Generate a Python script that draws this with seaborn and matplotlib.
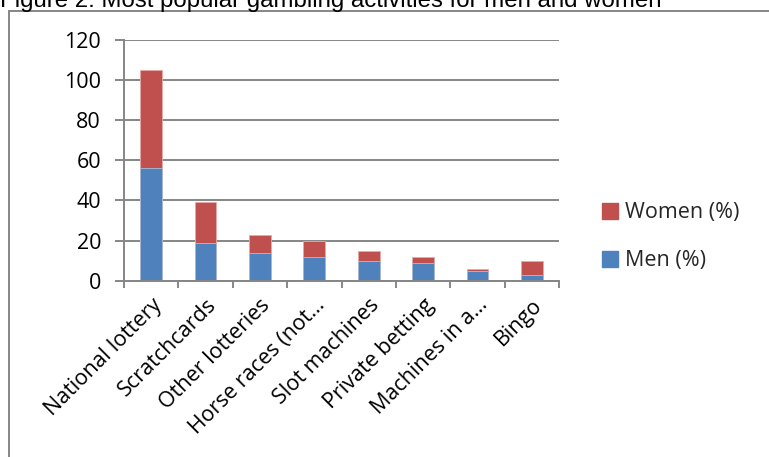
import matplotlib
matplotlib.use("Agg")
import matplotlib.pyplot as plt
from matplotlib.patches import Patch
from matplotlib.lines import Line2D
import seaborn as sns
import pandas as pd

categories = ["National lottery", "Scratchcards", "Other lotteries", "Horse races (not\u2026",
              "Slot machines", "Private betting", "Machines in a\u2026", "Bingo"]
men = [56, 19, 14, 12, 10, 9, 5, 3]
women = [49, 20, 9, 8, 5, 3, 1, 7]
yticks = [0, 20, 40, 60, 80, 100, 120]

BLUE = "#4F81BD"
RED = "#C0504D"
GRID = "#868686"
FS = 15.5

sns.set_theme(style="white")
plt.rcParams["font.family"] = ["Open Sans", "DejaVu Sans"]

df = pd.DataFrame({"activity": categories, "men": men, "women": women})
df["total"] = df["men"] + df["women"]

fig = plt.figure(figsize=(7.69, 4.57), dpi=100)
ax = fig.add_axes([0.1612, 0.3858, 0.727 - 0.1612, 0.9125 - 0.3858])

# stacked bars: total (women on top) first, then men over it
sns.barplot(data=df, x="activity", y="total", color=RED, saturation=1, width=0.4,
            edgecolor="#E6A9A8", linewidth=0.6, ax=ax)
sns.barplot(data=df, x="activity", y="men", color=BLUE, saturation=1, width=0.4,
            edgecolor="#A7C0DE", linewidth=0.6, ax=ax)

ax.set_ylim(0, 120)
ax.set_xlim(-0.5, len(categories) - 0.5)
ax.set_yticks(yticks)
ax.set_yticklabels([str(v) for v in yticks], fontsize=FS, color="black")
ax.yaxis.grid(True, color=GRID, linewidth=1.4)
ax.set_axisbelow(True)
ax.set_xlabel("")
ax.set_ylabel("")

for s in ["top", "right"]:
    ax.spines[s].set_visible(False)
for s in ["left", "bottom"]:
    ax.spines[s].set_color(GRID)
    ax.spines[s].set_linewidth(1.4)

# x ticks at category boundaries, labels at category centres
ax.set_xticks([i - 0.5 for i in range(len(categories) + 1)], minor=False)
ax.set_xticklabels([""] * (len(categories) + 1))
ax.set_xticks(range(len(categories)), minor=True)
ax.set_xticklabels(categories, minor=True, rotation=45, ha="right",
                   rotation_mode="anchor", fontsize=FS, color="black")
ax.tick_params(axis="x", which="major", direction="out", length=5, width=1.4,
               color=GRID, bottom=True)
ax.tick_params(axis="x", which="minor", length=0, pad=10, bottom=True)
ax.tick_params(axis="y", direction="out", length=6.5, width=1.4, color=GRID, left=True, pad=10)

handles = [Patch(facecolor=RED, edgecolor=RED, label="Women (%)"),
           Patch(facecolor=BLUE, edgecolor=BLUE, label="Men (%)")]
fig.legend(handles=handles, loc="center left", bbox_to_anchor=(0.758, 0.482),
           frameon=False, fontsize=FS, handlelength=0.75, handleheight=0.75,
           handletextpad=0.3, labelspacing=1.25)

# outer chart frame (only left and top edges fall inside the image)
fig.add_artist(Line2D([0.0117, 0.0117], [0.0, 0.976], transform=fig.transFigure,
                      color=GRID, linewidth=1.4))
fig.add_artist(Line2D([0.0117, 1.0], [0.976, 0.976], transform=fig.transFigure,
                      color=GRID, linewidth=1.4))

fig.text(0.0, 0.985, "Figure 2: Most popular gambling activities for men and women",
         fontsize=17.3, family=["Liberation Sans", "DejaVu Sans"], color="black",
         ha="left", va="baseline")

fig.savefig("out.png", dpi=100, facecolor="white")
